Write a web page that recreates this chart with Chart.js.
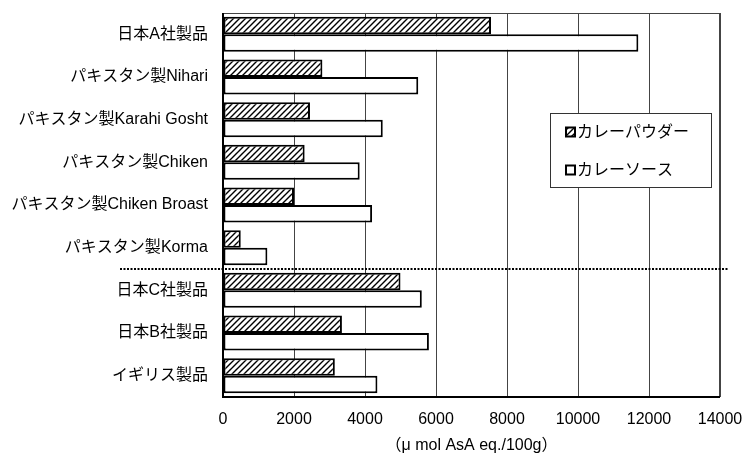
<!DOCTYPE html>
<html>
<head>
<meta charset="utf-8">
<script src="https://cdn.jsdelivr.net/npm/chart.js@4/dist/chart.umd.min.js"></script>
<style>
  html, body { margin: 0; padding: 0; background: #fff; }
  #wrap { width: 745px; height: 456px; position: relative; }
</style>
</head>
<body>
<div id="wrap"><canvas id="c" width="745" height="456"></canvas></div>
<script>
// Products (top to bottom)
const categories = [
  '日本A社製品',
  'パキスタン製Nihari',
  'パキスタン製Karahi Gosht',
  'パキスタン製Chiken',
  'パキスタン製Chiken Broast',
  'パキスタン製Korma',
  '日本C社製品',
  '日本B社製品',
  'イギリス製品'
];
// Antioxidant capacity, µmol AsA eq./100g
const curryPowder = [7550, 2800, 2450, 2300, 2000, 500, 5000, 3350, 3150];
const currySauce  = [11700, 5500, 4500, 3850, 4200, 1250, 5600, 5800, 4350];
const seriesNames = ['カレーパウダー', 'カレーソース'];
const xTicks = [0, 2000, 4000, 6000, 8000, 10000, 12000, 14000];
const axisTitle = '（μ mol AsA eq./100g）';
// Pakistani products end after this index; a dotted separator follows it
const groupSplitAfter = 5;

const FONT = "'Liberation Sans', 'Noto Sans CJK JP', sans-serif";

function makeHatch() {
  const s = 6;
  const c = document.createElement('canvas');
  c.width = s; c.height = s;
  const g = c.getContext('2d');
  g.fillStyle = '#fff';
  g.fillRect(0, 0, s, s);
  g.strokeStyle = '#000';
  g.lineWidth = 1.4;
  g.beginPath();
  g.moveTo(0, s); g.lineTo(s, 0);
  g.moveTo(-1, 1); g.lineTo(1, -1);
  g.moveTo(s - 1, s + 1); g.lineTo(s + 1, s - 1);
  g.stroke();
  return document.createElement('canvas').getContext('2d').createPattern(c, 'repeat');
}
const hatch = makeHatch();

const overlay = {
  id: 'overlay',
  afterDatasetsDraw(chart) {
    const { ctx, chartArea: a, scales: { y } } = chart;
    ctx.save();
    // plot frame
    ctx.strokeStyle = '#444';
    ctx.lineWidth = 1;
    ctx.strokeRect(a.left + 0.5, a.top + 0.5, a.right - a.left - 1, a.bottom - a.top - 1);
    ctx.strokeStyle = '#000';
    ctx.lineWidth = 2;
    ctx.beginPath();
    ctx.moveTo(a.left, a.top); ctx.lineTo(a.left, a.bottom); ctx.lineTo(a.right, a.bottom);
    ctx.stroke();
    // dotted separator between the Pakistani group and the rest
    const ys = (y.getPixelForValue(groupSplitAfter) + y.getPixelForValue(groupSplitAfter + 1)) / 2;
    ctx.setLineDash([2, 1.5]);
    ctx.lineWidth = 2;
    ctx.beginPath();
    ctx.moveTo(120, ys); ctx.lineTo(a.right + 8, ys);
    ctx.stroke();
    ctx.setLineDash([]);
    // legend box
    const bx = 550, by = 113, bw = 161, bh = 74;
    ctx.fillStyle = '#fff';
    ctx.fillRect(bx, by, bw, bh);
    ctx.strokeStyle = '#333';
    ctx.lineWidth = 1;
    ctx.strokeRect(bx + 0.5, by + 0.5, bw, bh);
    const rows = [by + 19, by + 57];
    chart.data.datasets.forEach((ds, i) => {
      const cy = rows[i];
      ctx.fillStyle = ds.backgroundColor;
      ctx.fillRect(566, cy - 4.5, 9, 9);
      ctx.strokeStyle = '#000';
      ctx.lineWidth = 2;
      ctx.strokeRect(566, cy - 4.5, 9, 9);
      ctx.fillStyle = '#000';
      ctx.font = '16px ' + FONT;
      ctx.textBaseline = 'middle';
      ctx.textAlign = 'left';
      ctx.fillText(ds.label, 577, cy + 1);
    });
    ctx.restore();
  }
};

new Chart(document.getElementById('c'), {
  type: 'bar',
  data: {
    labels: categories,
    datasets: [
      { label: seriesNames[0], data: curryPowder, backgroundColor: hatch,
        borderColor: '#000', borderWidth: 2, borderSkipped: false },
      { label: seriesNames[1], data: currySauce, backgroundColor: '#fff',
        borderColor: '#000', borderWidth: 2, borderSkipped: false }
    ]
  },
  options: {
    indexAxis: 'y',
    responsive: false,
    animation: false,
    events: [],
    categoryPercentage: 0.82,
    barPercentage: 1.0,
    layout: { padding: { top: 13, right: 25, left: 0, bottom: 0 } },
    plugins: { legend: { display: false }, tooltip: { enabled: false } },
    scales: {
      x: {
        min: 0, max: 14000,
        afterBuildTicks(scale) { scale.ticks = xTicks.map(v => ({ value: v })); },
        afterFit(scale) {
          scale.height = 59;
          scale.paddingLeft = 0;
          scale.paddingRight = 0;
        },
        grid: { color: '#444', lineWidth: 1, drawTicks: false },
        border: { display: false },
        ticks: { color: '#000', font: { family: FONT, size: 16 }, padding: 13, maxRotation: 0,
                 callback: v => String(v) },
        title: { display: true, text: axisTitle, color: '#000',
                 font: { family: FONT, size: 16 }, padding: { top: 0, bottom: 1 } }
      },
      y: {
        afterFit(scale) {
          scale.width = 223;
          scale.paddingTop = 0;
          scale.paddingBottom = 0;
        },
        grid: { display: false, drawTicks: false },
        border: { display: false },
        ticks: { color: '#000', font: { family: FONT, size: 16 }, padding: 15 }
      }
    }
  },
  plugins: [overlay]
});
</script>
</body>
</html>
